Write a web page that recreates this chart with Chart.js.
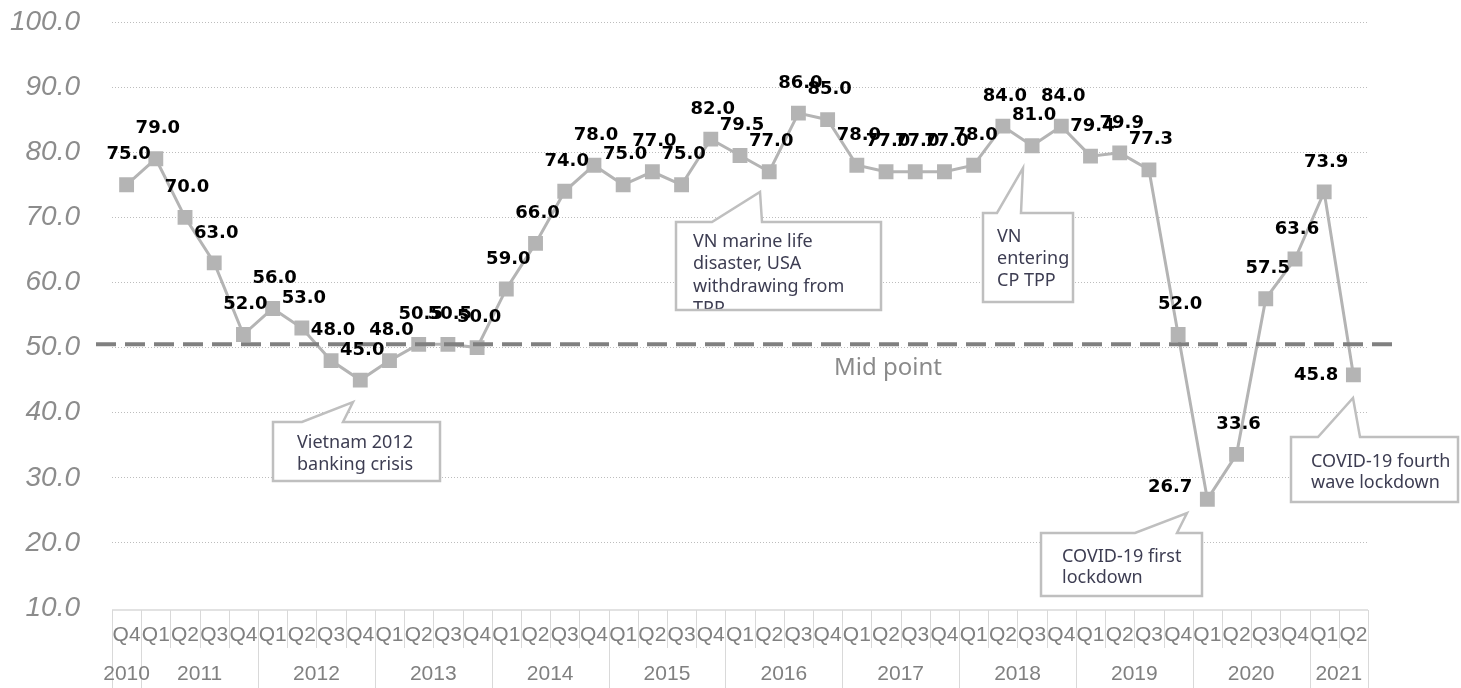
<!DOCTYPE html>
<html>
<head>
<meta charset="utf-8">
<script src="https://cdn.jsdelivr.net/npm/chart.js@4.4.1/dist/chart.umd.min.js"></script>
<style>
  html, body { margin: 0; padding: 0; background: #ffffff; }
  #wrap { width: 1461px; height: 688px; position: relative; }
</style>
</head>
<body>
<div id="wrap"><canvas id="pmi" width="1461" height="688"></canvas></div>
<script>
// Quarter labels, Q4 2010 through Q2 2021
const quarterLabels = [
  'Q4',
  'Q1','Q2','Q3','Q4',
  'Q1','Q2','Q3','Q4',
  'Q1','Q2','Q3','Q4',
  'Q1','Q2','Q3','Q4',
  'Q1','Q2','Q3','Q4',
  'Q1','Q2','Q3','Q4',
  'Q1','Q2','Q3','Q4',
  'Q1','Q2','Q3','Q4',
  'Q1','Q2','Q3','Q4',
  'Q1','Q2','Q3','Q4',
  'Q1','Q2'
];

// Year groups under the quarter row
const yearLabels = ['2010','2011','2012','2013','2014','2015','2016','2017','2018','2019','2020','2021'];
const quartersPerYear = [1, 4, 4, 4, 4, 4, 4, 4, 4, 4, 4, 2];

// Index values per quarter
const indexValues = [
  75.0,
  79.0, 70.0, 63.0, 52.0,
  56.0, 53.0, 48.0, 45.0,
  48.0, 50.5, 50.5, 50.0,
  59.0, 66.0, 74.0, 78.0,
  75.0, 77.0, 75.0, 82.0,
  79.5, 77.0, 86.0, 85.0,
  78.0, 77.0, 77.0, 77.0,
  78.0, 84.0, 81.0, 84.0,
  79.4, 79.9, 77.3, 52.0,
  26.7, 33.6, 57.5, 63.6,
  73.9, 45.8
];

// Y axis ticks
const yTickValues = [10, 20, 30, 40, 50, 60, 70, 80, 90, 100];

// Reference level and its caption
const midPointValue = 50.5;
const midPointText = 'Mid point';

// Event notes (text only)
const noteTexts = [
  ['Vietnam 2012', 'banking crisis'],
  ['VN marine life', 'disaster, USA', 'withdrawing from', 'TPP'],
  ['VN', 'entering', 'CP TPP'],
  ['COVID-19 first', 'lockdown'],
  ['COVID-19 fourth', 'wave lockdown']
];

// Box geometry for each note: box edges, wedge base on the top edge and wedge tip
const noteLayout = [
  { l: 273,  t: 422, r: 440,  b: 481, wl: 302,  wr: 343,  tx: 353,  ty: 402, textX: 297,  textY: 443, lh: 22 },
  { l: 676,  t: 222, r: 881,  b: 310, wl: 712,  wr: 762,  tx: 760,  ty: 192, textX: 693,  textY: 242, lh: 22.3 },
  { l: 983,  t: 213, r: 1073, b: 302, wl: 997,  wr: 1021, tx: 1023, ty: 168, textX: 997,  textY: 237, lh: 22 },
  { l: 1041, t: 533, r: 1202, b: 596, wl: 1135, wr: 1177, tx: 1187, ty: 513, textX: 1062, textY: 557, lh: 21 },
  { l: 1291, t: 437, r: 1458, b: 502, wl: 1318, wr: 1360, tx: 1353, ty: 398, textX: 1311, textY: 462, lh: 21 }
];

// Points whose value label sits to the left of the marker
const leftLabelIndexes = [37, 42];

const GRID_COLOR = '#bdbdbd';
const AXIS_LINE_COLOR = '#d9d9d9';
const AXIS_TEXT_COLOR = '#808080';
const SERIES_COLOR = '#b4b4b4';

// Bottom axis: quarter row plus grouped years with separators
const groupedAxisPlugin = {
  id: 'groupedAxis',
  afterDraw(chart) {
    const { ctx, chartArea, scales } = chart;
    const xs = scales.x;
    const n = quarterLabels.length;
    const w = (chartArea.right - chartArea.left) / n;
    const top = chartArea.bottom + 2;
    const shortBottom = top + 38;
    const longBottom = chart.height;
    const yearEdges = new Set([0]);
    let acc = 0;
    quartersPerYear.forEach(q => { acc += q; yearEdges.add(acc); });

    ctx.save();
    ctx.strokeStyle = AXIS_LINE_COLOR;
    ctx.lineWidth = 1.5;
    ctx.beginPath();
    ctx.moveTo(chartArea.left, top);
    ctx.lineTo(chartArea.right, top);
    ctx.stroke();

    ctx.lineWidth = 1;
    for (let i = 0; i <= n; i++) {
      const x = Math.round(chartArea.left + i * w) + 0.5;
      ctx.beginPath();
      ctx.moveTo(x, top);
      ctx.lineTo(x, yearEdges.has(i) ? longBottom : shortBottom);
      ctx.stroke();
    }

    ctx.fillStyle = AXIS_TEXT_COLOR;
    ctx.font = '21px "Liberation Sans", Arial, sans-serif';
    ctx.textAlign = 'center';
    ctx.textBaseline = 'middle';
    quarterLabels.forEach((q, i) => {
      ctx.fillText(q, xs.getPixelForValue(i), top + 25);
    });

    let start = 0;
    yearLabels.forEach((yr, k) => {
      const end = start + quartersPerYear[k];
      const cx = chartArea.left + (start + end) / 2 * w;
      ctx.fillText(yr, cx, top + 64);
      start = end;
    });
    ctx.restore();
  }
};

// Callout boxes with a pointer wedge
function traceNote(ctx, g) {
  ctx.beginPath();
  ctx.moveTo(g.l, g.t);
  ctx.lineTo(g.wl, g.t);
  ctx.lineTo(g.tx, g.ty);
  ctx.lineTo(g.wr, g.t);
  ctx.lineTo(g.r, g.t);
  ctx.lineTo(g.r, g.b);
  ctx.lineTo(g.l, g.b);
  ctx.closePath();
}

const notesPlugin = {
  id: 'notes',
  beforeDatasetsDraw(chart) {
    const { ctx } = chart;
    ctx.save();
    noteLayout.forEach((g, k) => {
      traceNote(ctx, g);
      ctx.fillStyle = '#ffffff';
      ctx.fill();

      ctx.save();
      ctx.beginPath();
      ctx.rect(g.l, g.t, g.r - g.l, g.b - g.t);
      ctx.clip();
      ctx.fillStyle = '#3d3d52';
      ctx.font = '18px "Noto Sans", sans-serif';
      ctx.textAlign = 'left';
      ctx.textBaseline = 'middle';
      noteTexts[k].forEach((line, j) => {
        ctx.fillText(line, g.textX, g.textY + j * g.lh);
      });
      ctx.restore();

      traceNote(ctx, g);
      ctx.strokeStyle = '#bfbfbf';
      ctx.lineWidth = 2.5;
      ctx.lineJoin = 'miter';
      ctx.stroke();
    });
    ctx.restore();
  }
};

// Value labels above each marker, plus the dashed reference line
const valueLabelPlugin = {
  id: 'valueLabels',
  afterDatasetsDraw(chart) {
    const { ctx, scales } = chart;
    const meta = chart.getDatasetMeta(0);
    ctx.save();

    // reference line
    const my = scales.y.getPixelForValue(midPointValue);
    ctx.strokeStyle = '#808080';
    ctx.lineWidth = 4;
    ctx.setLineDash([20, 9]);
    ctx.beginPath();
    ctx.moveTo(96, my);
    ctx.lineTo(1398, my);
    ctx.stroke();
    ctx.setLineDash([]);

    ctx.fillStyle = '#8a8a8a';
    ctx.font = '24px "Noto Sans", sans-serif';
    ctx.textAlign = 'center';
    ctx.textBaseline = 'middle';
    ctx.fillText(midPointText, 888, my + 24);

    // value labels
    ctx.fillStyle = '#000000';
    ctx.font = 'bold 18px "DejaVu Sans", sans-serif';
    ctx.textBaseline = 'middle';
    meta.data.forEach((pt, i) => {
      const txt = indexValues[i].toFixed(1);
      if (leftLabelIndexes.includes(i)) {
        ctx.textAlign = 'right';
        const dy = i === 37 ? -12 : 0;
        ctx.fillText(txt, pt.x - 15, pt.y + dy);
      } else {
        ctx.textAlign = 'center';
        ctx.fillText(txt, pt.x + 2, pt.y - 30);
      }
    });
    ctx.restore();
  }
};

new Chart(document.getElementById('pmi').getContext('2d'), {
  type: 'line',
  data: {
    labels: quarterLabels,
    datasets: [{
      data: indexValues,
      borderColor: SERIES_COLOR,
      backgroundColor: SERIES_COLOR,
      borderWidth: 3,
      pointStyle: 'rect',
      pointRadius: 10.5,
      pointBorderWidth: 0,
      pointBackgroundColor: SERIES_COLOR,
      tension: 0,
      fill: false
    }]
  },
  options: {
    responsive: false,
    animation: false,
    devicePixelRatio: 1,
    layout: { padding: { top: 22, right: 93, bottom: 80, left: 0 } },
    plugins: {
      legend: { display: false },
      tooltip: { enabled: false }
    },
    scales: {
      x: {
        type: 'category',
        offset: true,
        display: false
      },
      y: {
        min: yTickValues[0],
        max: yTickValues[yTickValues.length - 1],
        afterFit(scale) {
          scale.width = 112;
          scale.paddingTop = 0;
          scale.paddingBottom = 0;
        },
        afterBuildTicks(scale) { scale.ticks = yTickValues.map(v => ({ value: v })); },
        ticks: {
          padding: 32,
          color: '#8c8c8c',
          font: { family: '"Liberation Sans", Arial, sans-serif', size: 28, style: 'italic' },
          callback: v => Number(v).toFixed(1)
        },
        grid: {
          drawTicks: false,
          lineWidth: 1,
          color: c => (c.tick && c.tick.value === yTickValues[0]) ? 'rgba(0,0,0,0)' : GRID_COLOR
        },
        border: { display: false, dash: [1, 2] }
      }
    }
  },
  plugins: [notesPlugin, valueLabelPlugin, groupedAxisPlugin]
});
</script>
</body>
</html>
